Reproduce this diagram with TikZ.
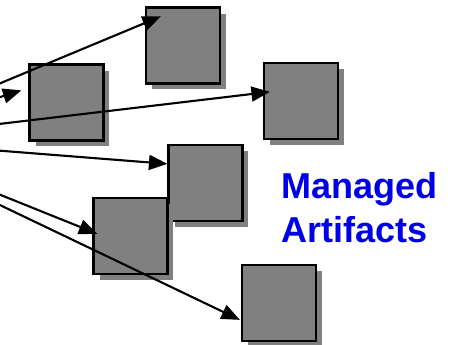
\documentclass[tikz,border=0pt]{standalone}
\usepackage{fontspec}
\setmainfont{Liberation Sans}
\usetikzlibrary{arrows.meta,shadows,positioning}
\definecolor{artblue}{RGB}{0,0,230}
\definecolor{artgray}{RGB}{128,128,128}

\begin{document}
\begin{tikzpicture}[x=0.02cm, y=-0.02cm]

\tikzstyle{artifact}=[rectangle,draw=black,line width=1.3pt,fill=artgray,minimum width=1.48cm,minimum height=1.52cm,inner sep=0pt,
  drop shadow={shadow xshift=0.12cm,shadow yshift=-0.12cm,fill=artgray,opacity=1}]
\tikzstyle{link}=[line width=1.2pt,-{Triangle[length=10.5pt,width=8.5pt]}]
\tikzstyle{annot}=[text=artblue,font=\fontsize{20.5}{25}\selectfont\bfseries,align=left,inner sep=0pt]

\useasboundingbox (0,0) rectangle (455,344);
\clip (0,0) rectangle (455,344);

\coordinate (src) at (-136,140);

\node[artifact] (m1) at (183,45.5) {};
\node[artifact] (m2) at (66.5,102.5) {};
\node[artifact] (m3) at (301,101) {};
\node[artifact] (m4) at (205.5,183) {};
\node[artifact] (m5) at (130.5,236) {};
\node[artifact] (m6) at (279,303) {};

\node[annot, anchor=north west] (label) at (281,172) {Managed\\Artifacts};

\draw[link] (src) -- ([shift={(16,10)}]m1.north west);
\draw[link] (src) -- ([shift={(-7,27)}]m2.north west);
\draw[link] (src) -- ([shift={(7,30)}]m3.north west);
\draw[link] (src) -- ([shift={(0,20)}]m4.north west);
\draw[link] (src) -- ([shift={(5,37)}]m5.north west);
\draw[link] (src) -- ([shift={(-1,56)}]m6.north west);

\end{tikzpicture}
\end{document}
